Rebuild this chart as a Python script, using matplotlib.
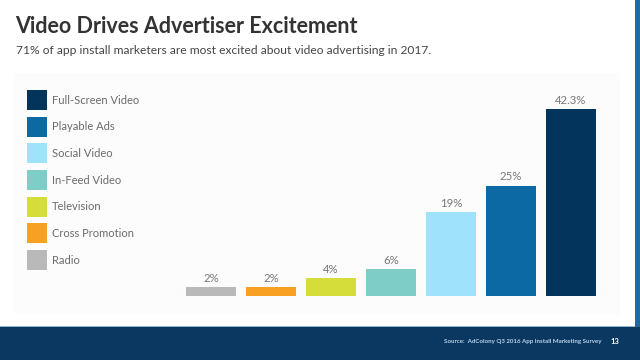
import matplotlib
matplotlib.use("Agg")
import matplotlib.pyplot as plt
from matplotlib.patches import Rectangle

categories = ["Radio", "Cross Promotion", "Television", "In-Feed Video",
              "Social Video", "Playable Ads", "Full-Screen Video"]
values = [2, 2, 4, 6, 19, 25, 42.3]
labels = ["2%", "2%", "4%", "6%", "19%", "25%", "42.3%"]
colors = ["#b9b9b9", "#f7a021", "#d4dd3a", "#7ecdc6",
          "#9ee3fb", "#0d69a3", "#03345c"]

W, H = 640, 360
fig = plt.figure(figsize=(6.4, 3.6), dpi=100)
fig.patch.set_facecolor("white")

def fx(px): return px / W
def fy(py): return 1 - py / H

font = "Lato"

# panel background
fig.patches.append(Rectangle((fx(14), fy(314)), fx(620) - fx(14), fy(73) - fy(314),
                             transform=fig.transFigure, facecolor="#fcfcfc",
                             edgecolor="none", zorder=-2))
# footer
fig.patches.append(Rectangle((0, 0), 1, fy(327), transform=fig.transFigure,
                             facecolor="#0b3861", edgecolor="none", zorder=-1))
fig.patches.append(Rectangle((0, fy(327)), 1, 1.2 / H, transform=fig.transFigure,
                             facecolor="#8fb6d6", edgecolor="none", zorder=-1))
# right stripe
fig.patches.append(Rectangle((fx(635), fy(327)), fx(5), fy(0) - fy(327),
                             transform=fig.transFigure, facecolor="#1a6aa8",
                             edgecolor="none", zorder=-1))

# titles
fig.text(fx(15), fy(33), "Video Drives Advertiser Excitement", fontsize=15.5,
         fontweight="bold", color="#333333", va="baseline", ha="left", family=font)
fig.text(fx(16), fy(54), "71% of app install marketers are most excited about video advertising in 2017.",
         fontsize=8.65, color="#444444", va="baseline", ha="left", family=font)

# bar axes
x0, x1 = 173, 607
base = 296
ppu = 4.42
ymax = 45
ax = fig.add_axes([fx(x0), fy(base), fx(x1) - fx(x0), (ymax * ppu) / H])
ax.set_zorder(1)
ax.set_facecolor("none")
pos = list(range(len(values)))
ax.bar(pos, values, width=50 / 60, color=colors, zorder=2)
for p, v, t in zip(pos, values, labels):
    ax.text(p, v + 0.7, t, ha="center", va="bottom", fontsize=8.2,
            color="#777777", family=font)
ax.set_xlim(-0.633, 6.6)
ax.set_ylim(0, ymax)
ax.axhline(0, color="#dddddd", lw=0.8, zorder=1)
for s in ax.spines.values():
    s.set_visible(False)
ax.set_xticks([])
ax.set_yticks([])

# legend
legend_order = list(reversed(range(len(categories))))
for i, idx in enumerate(legend_order):
    cy = 100 + i * 26.67
    fig.patches.append(Rectangle((fx(27), fy(cy + 10)), fx(20), 20 / H,
                                 transform=fig.transFigure, facecolor=colors[idx],
                                 edgecolor="none", zorder=2))
    fig.text(fx(52), fy(cy), categories[idx], fontsize=8, color="#6b6b6b",
             va="center", ha="left", family=font)

# footer text
fig.text(fx(602), fy(342), "Source:  AdColony Q3 2016 App Install Marketing Survey",
         fontsize=4.4, color="#b9d3ea", va="center", ha="right", family=font,
         fontweight="bold")
fig.text(fx(611), fy(342), "13", fontsize=5.5, color="white", va="center",
         ha="left", family=font, fontweight="bold")

fig.savefig("out.png", dpi=100, facecolor=fig.get_facecolor())
